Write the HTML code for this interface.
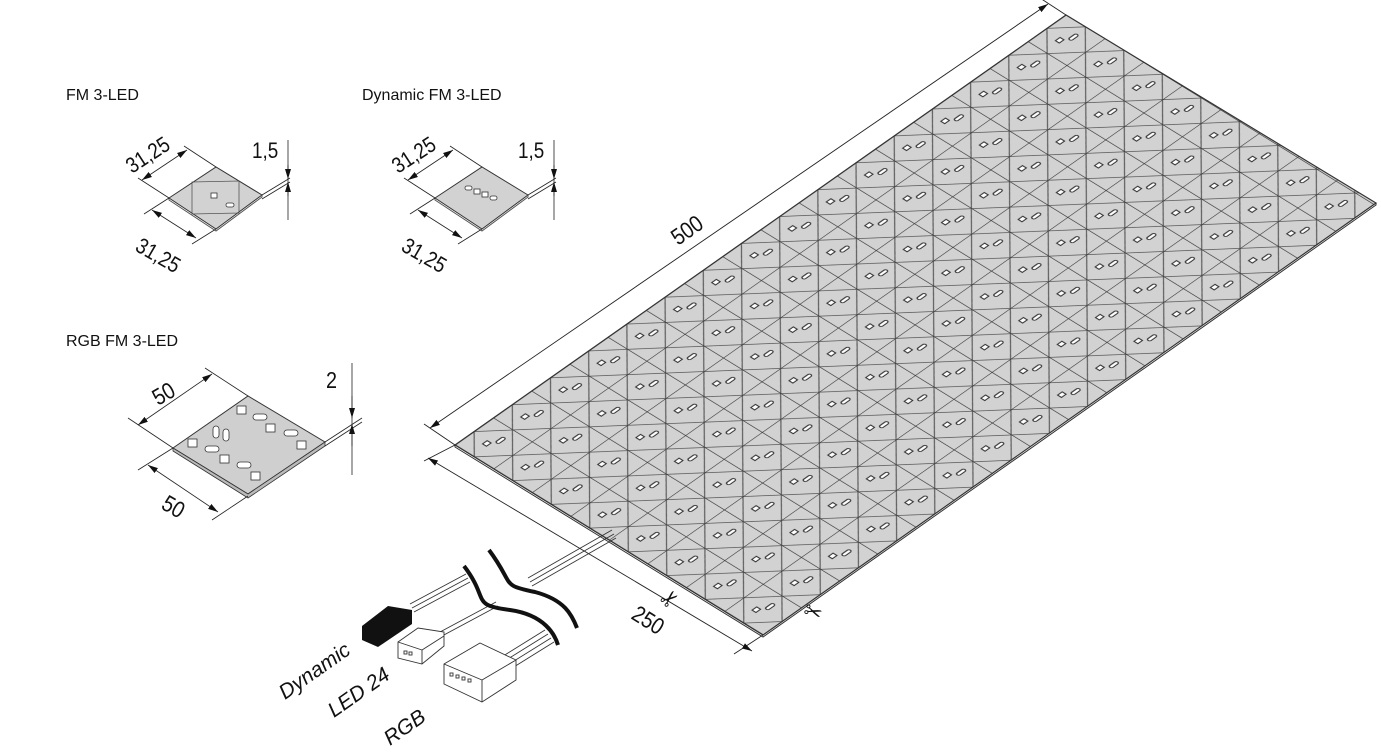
<!DOCTYPE html>
<html><head><meta charset="utf-8"><style>
html,body{margin:0;padding:0;background:#fff;}
svg{display:block;}
text{font-family:"Liberation Sans","DejaVu Sans",sans-serif;fill:#111;}
.d{font-size:22px;}
</style></head><body>
<svg width="1381" height="753" viewBox="0 0 1381 753" xmlns="http://www.w3.org/2000/svg">
<defs>
<pattern id="cell" patternUnits="userSpaceOnUse" width="1" height="1" patternTransform="matrix(38.19 -26.88 38.5 23.75 455 445)">
 <rect x="0" y="0" width="1" height="1" fill="#d2d2d2"/>
 <path d="M0.5 0 L1 0.5 L0.5 1 L0 0.5 Z" fill="none" stroke="#555" stroke-width="0.02"/>
 <path d="M0 0 H1 M0 0 V1" stroke="#333" stroke-width="0.03" fill="none"/>
 <rect x="0.36" y="0.36" width="0.12" height="0.1" fill="#fff" stroke="#333" stroke-width="0.025"/>
 <rect x="0.55" y="0.5" width="0.2" height="0.08" rx="0.04" fill="#fff" stroke="#333" stroke-width="0.025"/>
</pattern>
<marker id="ar" markerWidth="10" markerHeight="6" refX="10" refY="3" orient="auto" markerUnits="userSpaceOnUse"><path d="M0 0 L10 3 L0 6 Z" fill="#111"/></marker>
<marker id="al" markerWidth="10" markerHeight="6" refX="0" refY="3" orient="auto" markerUnits="userSpaceOnUse"><path d="M10 0 L0 3 L10 6 Z" fill="#111"/></marker>
</defs>

<polygon points="455,445 1066,15 1376,203 763,635" fill="url(#cell)" stroke="#333" stroke-width="1.2"/>
<polyline points="455,445 455,447 763,637 1376,205 1376,203" fill="none" stroke="#333" stroke-width="1"/>

<g stroke="#222" stroke-width="0.9" fill="none">
<line x1="455" y1="445" x2="424" y2="424"/>
<line x1="1066" y1="15" x2="1040" y2="-2"/>
<line x1="430" y1="428" x2="1048" y2="4" marker-start="url(#al)" marker-end="url(#ar)"/>
<line x1="455" y1="445" x2="424" y2="461"/>
<line x1="763" y1="635" x2="734" y2="654"/>
<line x1="428" y1="458" x2="752" y2="651" marker-start="url(#al)" marker-end="url(#ar)"/>
</g>
<text class="d" transform="translate(678,246) rotate(-35) scale(0.9,1.05)">500</text>
<text class="d" transform="translate(630,618) rotate(32) scale(0.9,1.05)">250</text>
<text x="660" y="606" font-size="22" fill="#555" transform="rotate(-40 670 598)">✂</text>
<text x="804" y="620" font-size="22" fill="#555" transform="rotate(20 815 612)">✂</text>

<g stroke="#333" stroke-width="0.9" fill="none">
<line x1="528" y1="578" x2="612" y2="530"/><line x1="530" y1="582" x2="614" y2="534"/><line x1="532" y1="586" x2="616" y2="538"/>
<line x1="410" y1="604" x2="466" y2="574"/><line x1="412" y1="608" x2="468" y2="578"/><line x1="414" y1="612" x2="470" y2="582"/>
<line x1="440" y1="632" x2="496" y2="602"/><line x1="442" y1="636" x2="498" y2="606"/>
<line x1="500" y1="658" x2="545" y2="630"/><line x1="503" y1="662" x2="548" y2="634"/><line x1="506" y1="666" x2="551" y2="638"/><line x1="509" y1="670" x2="554" y2="642"/>
</g>
<path d="M464 566 C490 600 470 605 510 610 C545 615 555 635 558 645" fill="none" stroke="#111" stroke-width="4"/>
<path d="M489 550 C515 585 500 585 535 592 C565 600 572 615 577 628" fill="none" stroke="#111" stroke-width="4"/>

<polygon points="362,626 388,606 412,610 412,624 378,647 362,640" fill="#111"/>
<g fill="#fff" stroke="#333" stroke-width="0.9">
<polygon points="398,642 418,628 444,632 444,646 422,664 398,658"/>
<line x1="398" y1="642" x2="422" y2="650"/><line x1="422" y1="650" x2="444" y2="636"/><line x1="422" y1="650" x2="422" y2="664"/>
<rect x="404" y="651" width="3" height="3"/><rect x="409" y="652" width="3" height="3"/>
</g>
<g fill="#fff" stroke="#333" stroke-width="0.9">
<polygon points="444,664 480,643 516,660 516,680 482,702 444,684"/>
<line x1="444" y1="664" x2="482" y2="680"/><line x1="482" y1="680" x2="516" y2="660"/><line x1="482" y1="680" x2="482" y2="702"/>
<rect x="450" y="673" width="3" height="3"/><rect x="456" y="675" width="3" height="3"/><rect x="462" y="677" width="3" height="3"/><rect x="468" y="679" width="3" height="3"/>
</g>
<text font-size="21" font-style="italic" transform="translate(285,700) rotate(-35)">Dynamic</text>
<text font-size="21" font-style="italic" transform="translate(334,718) rotate(-35)">LED 24</text>
<text font-size="21" font-style="italic" transform="translate(390,746) rotate(-35)">RGB</text>

<text x="66" y="100" font-size="16">FM 3-LED</text>
<text x="362" y="100" font-size="16">Dynamic FM 3-LED</text>
<g id="fm">
<polygon points="169,198 216,167 262,195 216,229" fill="#d2d2d2" stroke="#333" stroke-width="1"/>
<polyline points="169,198 169,200 216,231 262,197 262,195" fill="none" stroke="#555" stroke-width="1"/>
<g stroke="#222" stroke-width="0.8" fill="none">
<line x1="169" y1="198" x2="138" y2="178"/><line x1="216" y1="167" x2="184" y2="146"/>
<line x1="142" y1="180" x2="187" y2="150" marker-start="url(#al)" marker-end="url(#ar)"/>
<line x1="169" y1="198" x2="144" y2="214"/><line x1="216" y1="229" x2="192" y2="244"/>
<line x1="152" y1="210" x2="196" y2="238" marker-start="url(#al)" marker-end="url(#ar)"/>
<line x1="262" y1="195" x2="290" y2="178"/><line x1="262" y1="199" x2="290" y2="182"/>
<line x1="288" y1="140" x2="288" y2="220"/>
<line x1="288" y1="165" x2="288" y2="179" marker-end="url(#ar)"/>
<line x1="288" y1="196" x2="288" y2="182" marker-end="url(#ar)"/>
</g>
<text font-size="21" transform="translate(132,174) rotate(-33) scale(0.9,1.05)">31,25</text>
<text font-size="21" transform="translate(134,250) rotate(30) scale(0.9,1.05)">31,25</text>
<text font-size="21" transform="translate(252,158) scale(0.9,1.05)">1,5</text>
</g>
<g fill="none" stroke="#555" stroke-width="0.8">
<polygon points="192,182 239,181 239,213 192,214"/>
</g>
<rect x="211" y="193" width="6" height="5" fill="#fff" stroke="#333" stroke-width="0.8"/>
<rect x="226" y="203" width="8" height="4" rx="2" fill="#fff" stroke="#333" stroke-width="0.8"/>
<use href="#fm" transform="translate(266,0)"/>
<g fill="#fff" stroke="#333" stroke-width="0.8">
<rect x="465" y="186" width="7" height="4" rx="2"/><rect x="474" y="189" width="6" height="5"/><rect x="482" y="192" width="6" height="5"/><rect x="490" y="196" width="7" height="4" rx="2"/>
</g>

<text x="66" y="346" font-size="16">RGB FM 3-LED</text>
<polygon points="173,448 248,396 325,442 248,494" fill="#cfcfcf" stroke="#333" stroke-width="1"/>
<polygon points="173,448 248,494 325,442 325,446 248,498 173,451" fill="#bbb" stroke="#333" stroke-width="0.8"/>
<g fill="#fff" stroke="#333" stroke-width="0.8">
<rect x="237" y="406" width="9" height="8"/><rect x="253" y="414" width="14" height="6" rx="3"/><rect x="266" y="424" width="9" height="8"/><rect x="284" y="430" width="14" height="6" rx="3"/><rect x="297" y="441" width="9" height="8"/>
<rect x="188" y="439" width="9" height="8"/><rect x="205" y="446" width="14" height="6" rx="3"/><rect x="220" y="455" width="9" height="8"/><rect x="237" y="462" width="14" height="6" rx="3"/><rect x="251" y="472" width="9" height="8"/>
<rect x="213" y="426" width="6" height="12" rx="3"/><rect x="223" y="429" width="6" height="12" rx="3"/>
</g>
<g stroke="#222" stroke-width="0.8" fill="none">
<line x1="173" y1="448" x2="128" y2="418"/><line x1="248" y1="396" x2="205" y2="368"/>
<line x1="138" y1="425" x2="212" y2="374" marker-start="url(#al)" marker-end="url(#ar)"/>
<line x1="173" y1="448" x2="138" y2="470"/><line x1="248" y1="496" x2="212" y2="520"/>
<line x1="148" y1="465" x2="218" y2="512" marker-start="url(#al)" marker-end="url(#ar)"/>
<line x1="325" y1="442" x2="362" y2="418"/><line x1="325" y1="446" x2="362" y2="422"/>
<line x1="352" y1="363" x2="352" y2="475"/>
<line x1="352" y1="396" x2="352" y2="418" marker-end="url(#ar)"/>
<line x1="352" y1="446" x2="352" y2="424" marker-end="url(#ar)"/>
</g>
<text font-size="22" transform="translate(158,406) rotate(-30) scale(0.9,1.05)">50</text>
<text font-size="22" transform="translate(160,508) rotate(30) scale(0.9,1.05)">50</text>
<text font-size="22" transform="translate(326,388) scale(0.9,1.05)">2</text>
</svg>
</body></html>
